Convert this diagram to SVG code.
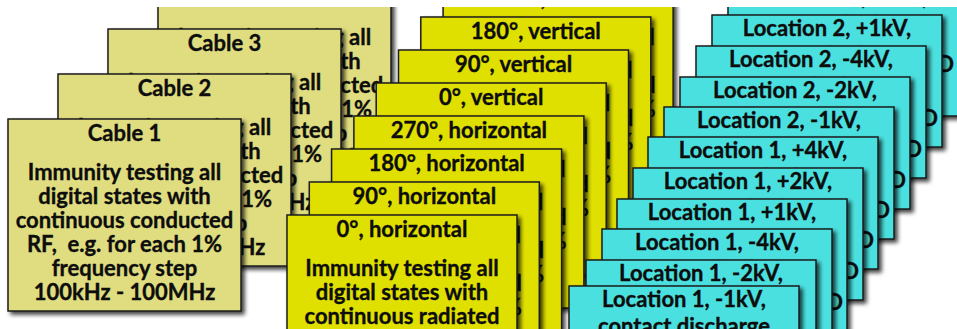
<svg xmlns="http://www.w3.org/2000/svg" width="957" height="329" viewBox="0 0 957 329">
<style>
.card{stroke:#1c1c1c;stroke-width:1.5;filter:url(#sh)}
.k{fill:#E0DD80}
.y{fill:#E0E000}
.c{fill:#4CE0E0}
text{font-family:Lato,"Liberation Sans",sans-serif;font-weight:700;font-size:22px;fill:#0d0d0d;stroke:#0d0d0d;stroke-width:0.35;text-anchor:middle}
text.e{text-anchor:end}
</style>
<defs>
<filter id="sh" x="-10%" y="-10%" width="130%" height="130%"><feDropShadow dx="3" dy="3" stdDeviation="2" flood-color="#000" flood-opacity="0.75"/></filter>
<clipPath id="clip"><rect x="0" y="7" width="957" height="322"/></clipPath>
</defs>
<rect width="957" height="329" fill="#fff"/>
<g clip-path="url(#clip)">
<g id="cable4"><rect class="card k" x="158" y="-16" width="233" height="192"/>
<text x="274.5" y="6">Cable 4</text>
<text x="274.5" y="45">Immunity testing all</text><text x="274.5" y="69">digital states with</text><text x="274.5" y="93">continuous conducted</text><text x="274.5" y="117" xml:space="preserve">RF,  e.g. for each 1%</text><text x="274.5" y="141">frequency step</text><text x="274.5" y="165">100kHz - 100MHz</text></g>
<g id="cable3"><rect class="card k" x="108" y="29" width="233" height="192"/>
<text x="224.5" y="51">Cable 3</text>
<text x="224.5" y="90">Immunity testing all</text><text x="224.5" y="114">digital states with</text><text x="224.5" y="138">continuous conducted</text><text x="224.5" y="162" xml:space="preserve">RF,  e.g. for each 1%</text><text x="224.5" y="186">frequency step</text><text x="224.5" y="210">100kHz - 100MHz</text></g>
<g id="cable2"><rect class="card k" x="58" y="74" width="233" height="192"/>
<text x="174.5" y="96">Cable 2</text>
<text x="174.5" y="135">Immunity testing all</text><text x="174.5" y="159">digital states with</text><text x="174.5" y="183">continuous conducted</text><text x="174.5" y="207" xml:space="preserve">RF,  e.g. for each 1%</text><text x="174.5" y="231">frequency step</text><text x="174.5" y="255">100kHz - 100MHz</text></g>
<g id="cable1"><rect class="card k" x="8" y="119" width="233" height="192"/>
<text x="124.5" y="141">Cable 1</text>
<text x="124.5" y="180">Immunity testing all</text><text x="124.5" y="204">digital states with</text><text x="124.5" y="228">continuous conducted</text><text x="124.5" y="252" xml:space="preserve">RF,  e.g. for each 1%</text><text x="124.5" y="276">frequency step</text><text x="124.5" y="300">100kHz - 100MHz</text></g>

<g id="rad7"><rect class="card y" x="443.1" y="-16" width="230" height="192"/>
<text x="558.1" y="6">270°, vertical</text>
<text x="558.1" y="45">Immunity testing all</text><text x="558.1" y="69">digital states with</text><text x="558.1" y="93">continuous radiated</text><text x="558.1" y="117" xml:space="preserve">RF,  e.g. for each 1%</text></g>
<g id="rad6"><rect class="card y" x="420.8" y="17" width="230" height="192"/>
<text x="535.8" y="39">180°, vertical</text>
<text x="535.8" y="78">Immunity testing all</text><text x="535.8" y="102">digital states with</text><text x="535.8" y="126">continuous radiated</text><text x="535.8" y="150" xml:space="preserve">RF,  e.g. for each 1%</text></g>
<g id="rad5"><rect class="card y" x="398.5" y="50" width="230" height="192"/>
<text x="513.5" y="72">90°, vertical</text>
<text x="513.5" y="111">Immunity testing all</text><text x="513.5" y="135">digital states with</text><text x="513.5" y="159">continuous radiated</text><text x="513.5" y="183" xml:space="preserve">RF,  e.g. for each 1%</text></g>
<g id="rad4"><rect class="card y" x="376.2" y="83" width="230" height="192"/>
<text x="491.2" y="105">0°, vertical</text>
<text x="491.2" y="144">Immunity testing all</text><text x="491.2" y="168">digital states with</text><text x="491.2" y="192">continuous radiated</text><text x="491.2" y="216" xml:space="preserve">RF,  e.g. for each 1%</text></g>
<g id="rad3"><rect class="card y" x="353.9" y="116" width="230" height="192"/>
<text x="468.9" y="138">270°, horizontal</text>
<text x="468.9" y="177">Immunity testing all</text><text x="468.9" y="201">digital states with</text><text x="468.9" y="225">continuous radiated</text><text x="468.9" y="249" xml:space="preserve">RF,  e.g. for each 1%</text></g>
<g id="rad2"><rect class="card y" x="331.6" y="149" width="230" height="192"/>
<text x="446.6" y="171">180°, horizontal</text>
<text x="446.6" y="210">Immunity testing all</text><text x="446.6" y="234">digital states with</text><text x="446.6" y="258">continuous radiated</text><text x="446.6" y="282" xml:space="preserve">RF,  e.g. for each 1%</text></g>
<g id="rad1"><rect class="card y" x="309.3" y="182" width="230" height="192"/>
<text x="424.3" y="204">90°, horizontal</text>
<text x="424.3" y="243">Immunity testing all</text><text x="424.3" y="267">digital states with</text><text x="424.3" y="291">continuous radiated</text><text x="424.3" y="315" xml:space="preserve">RF,  e.g. for each 1%</text></g>
<g id="rad0"><rect class="card y" x="287" y="215" width="230" height="192"/>
<text x="402" y="237">0°, horizontal</text>
<text x="402" y="276">Immunity testing all</text><text x="402" y="300">digital states with</text><text x="402" y="324">continuous radiated</text></g>

<g id="esd10"><rect class="card c" x="728" y="-16" width="230" height="132"/>
<text x="843" y="5">Location 2, +2kV,</text><text x="843" y="32">contact discharge</text><text class="e" x="954" y="72">D</text></g>
<g id="esd9"><rect class="card c" x="712" y="15" width="230" height="132"/>
<text x="827" y="36">Location 2, +1kV,</text><text x="827" y="63">contact discharge</text><text class="e" x="938" y="126">D</text></g>
<g id="esd8"><rect class="card c" x="696" y="46" width="230" height="132"/>
<text x="811" y="67">Location 2, -4kV,</text><text x="811" y="94">contact discharge</text><text class="e" x="922" y="157">D</text></g>
<g id="esd7"><rect class="card c" x="680" y="77" width="230" height="132"/>
<text x="795" y="98">Location 2, -2kV,</text><text x="795" y="125">contact discharge</text><text class="e" x="906" y="188">D</text></g>
<g id="esd6"><rect class="card c" x="664" y="107" width="230" height="132"/>
<text x="779" y="128">Location 2, -1kV,</text><text x="779" y="155">contact discharge</text><text class="e" x="890" y="218">D</text></g>
<g id="esd5"><rect class="card c" x="648" y="137" width="230" height="132"/>
<text x="763" y="158">Location 1, +4kV,</text><text x="763" y="185">contact discharge</text><text class="e" x="874" y="248">D</text></g>
<g id="esd4"><rect class="card c" x="633" y="168" width="230" height="132"/>
<text x="748" y="189">Location 1, +2kV,</text><text x="748" y="216">contact discharge</text><text class="e" x="859" y="279">D</text></g>
<g id="esd3"><rect class="card c" x="617" y="199" width="230" height="132"/>
<text x="732" y="220">Location 1, +1kV,</text><text x="732" y="247">contact discharge</text><text class="e" x="843" y="310">D</text></g>
<g id="esd2"><rect class="card c" x="602" y="229" width="230" height="132"/>
<text x="717" y="250">Location 1, -4kV,</text><text x="717" y="277">contact discharge</text></g>
<g id="esd1"><rect class="card c" x="586" y="260" width="230" height="132"/>
<text x="701" y="281">Location 1, -2kV,</text><text x="701" y="308">contact discharge</text></g>
<g id="esd0"><rect class="card c" x="569" y="286" width="230" height="132"/>
<text x="684" y="307">Location 1, -1kV,</text><text x="684" y="334">contact discharge</text></g>
</g>
<g id="connectors"/>
</svg>
